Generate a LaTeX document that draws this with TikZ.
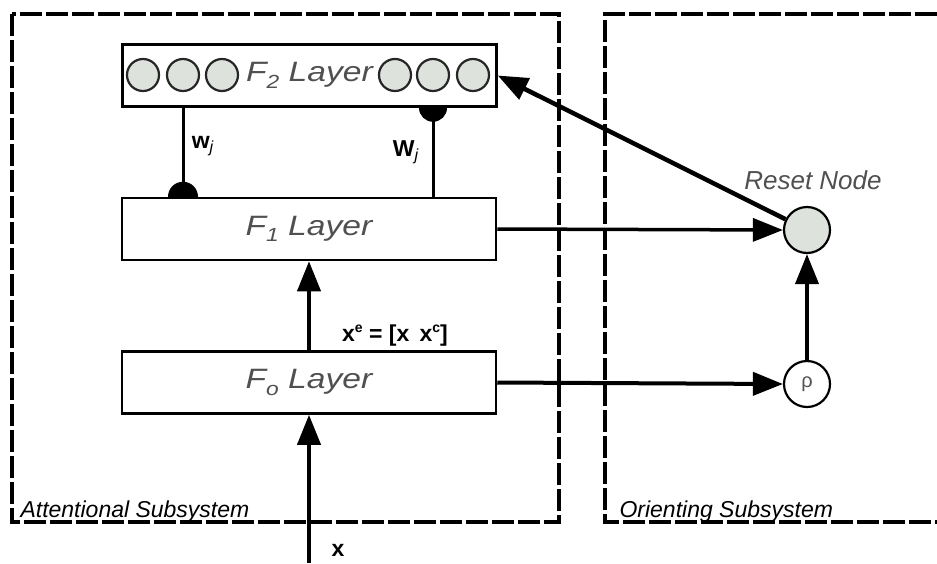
\documentclass[tikz,border=0pt]{standalone}
\usepackage{fontspec}
\setmainfont{Liberation Sans}
\newfontfamily\widesans[FakeStretch=1.2]{Liberation Sans}
\usetikzlibrary{arrows.meta}
\definecolor{cellgray}{HTML}{DDE2DD}
\definecolor{labelgray}{HTML}{505050}
\newcommand{\lsub}[1]{\raisebox{-0.45ex}{\fontsize{19}{19}\selectfont #1}}
\newcommand{\lsup}[1]{\raisebox{0.75ex}{\fontsize{14}{14}\selectfont #1}}

\begin{document}
\begin{tikzpicture}[
  x=1pt, y=-1pt,
  layer/.style={draw=black, line width=2.5pt, fill=white, inner sep=0pt,
    minimum width=374pt, minimum height=62pt,
    font=\widesans\fontsize{28}{32}\selectfont\itshape, text=labelgray},
  cell/.style={circle, draw=black!85, fill=cellgray, line width=2.2pt,
    inner sep=0pt, minimum size=32pt},
  bignode/.style={circle, draw=black, fill=#1, line width=2.2pt,
    inner sep=0pt, minimum size=46pt},
  subsys/.style={draw=black, line width=3.5pt, dash pattern=on 22pt off 4pt},
  sublabel/.style={anchor=base west, font=\fontsize{23}{26}\selectfont\itshape},
  arr/.style={line width=4pt, -{Triangle[length=30pt,width=23pt]}},
  wline/.style={line width=3pt},
  wlabel/.style={font=\fontsize{23}{26}\selectfont\bfseries}
]
  \useasboundingbox (0,0) rectangle (937,563);

  % Subsystem frames
  \draw[subsys] (12,14) rectangle (559,522);
  \draw[subsys] (937,14) -- (605,14) -- (605,522) -- (937,522);
  \node[sublabel] (attlbl) at (17,517) {Attentional Subsystem};
  \node[sublabel] (orilbl) at (616,517) {Orienting Subsystem};

  % Layers
  \node[layer] (F2) at (309.5,75.5) {F\lsub{2} Layer};
  \node[layer] (F1) at (309,229) {F\lsub{1} Layer};
  \node[layer] (F0) at (309,382.5) {F\lsub{o} Layer};

  % F2 units
  \foreach \n/\xx in {1/143, 2/183, 3/222, 4/395, 5/433, 6/473}
    \node[cell] (c\n) at (\xx,75) {};

  % Orienting nodes
  \node[bignode=cellgray] (reset) at (807,230) {};
  \node[bignode=white, font=\fontsize{20}{20}\selectfont, text=labelgray] (rho) at (807,384) {ρ};
  \node[font=\fontsize{26}{29}\selectfont\itshape, text=labelgray] (resetlbl) at (813,180) {Reset Node};

  % Weights
  \draw[wline] (c2 |- F2.south) -- (c2 |- F1.north);
  \fill (c2 |- F1.north) ++(-15,0) arc[start angle=180, end angle=360, radius=15] -- cycle;
  \draw[wline] (c5 |- F1.north) -- (c5 |- F2.south);
  \fill (c5 |- F2.south) ++(-14,0) arc[start angle=180, end angle=0, radius=14] -- cycle;
  \node[wlabel] (wlow) at (203,146) {w\textsubscript{\textit{\mdseries j}}};
  \node[wlabel] (wup) at (406,152) {W\textsubscript{\textit{\mdseries j}}};

  % Signals
  \coordinate (xin) at (309,563);
  \draw[arr] (xin) -- (F0.south);
  \node[wlabel] (xlbl) at (338,550) {x};
  \draw[arr] (F0.north) -- (F1.south);
  \node[font=\fontsize{23}{26}\selectfont\bfseries] (xelbl) at (395,336)
    {x\lsup{e} = [x\, x\lsup{c}]};
  \draw[arr, line width=3.5pt] (F1.east) -- (reset.west);
  \draw[arr] (F0.east) -- (rho.west);
  \draw[arr] (rho.north) -- (reset.south);
  \draw[arr, line width=4.5pt] (reset) -- (F2.east);
\end{tikzpicture}
\end{document}
